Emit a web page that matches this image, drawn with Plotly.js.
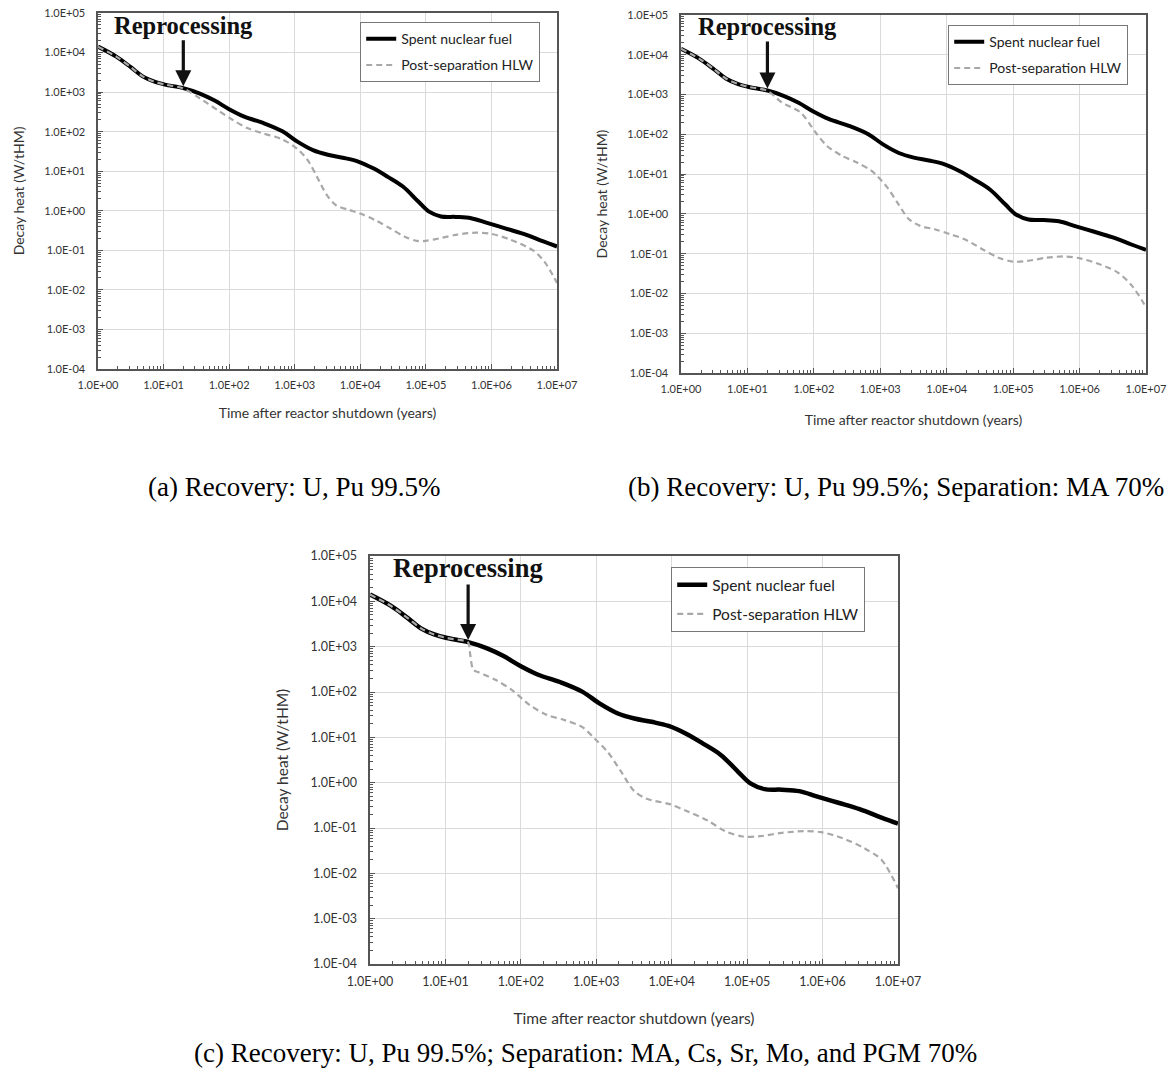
<!DOCTYPE html>
<html><head><meta charset="utf-8">
<script src="https://cdn.plot.ly/plotly-3.0.1.min.js"></script>
<style>html,body{margin:0;padding:0;background:#fff}#chart{width:1172px;height:1068px}</style>
</head><body><div id="chart"></div>
<script>
// ---- data (time in years, decay heat in W/tHM) ----
const snfTime = [1, 1.9, 3.2, 4.8, 7.1, 10.5, 20, 35, 59, 100, 170, 330, 650, 1100, 1900, 3200, 5400, 9100, 15500, 26300, 44700, 75900, 112000, 170000, 288000, 490000, 832000, 1620000, 3090000, 6030000, 1e7];
const snfHeat = [14100, 7900, 4200, 2500, 1860, 1550, 1260, 930, 620, 370, 240, 166, 102, 56, 34, 26, 22, 17.8, 12, 7.2, 4.1, 1.74, 0.95, 0.72, 0.70, 0.65, 0.50, 0.36, 0.26, 0.17, 0.125];

const hlwATime = [1, 1.9, 3.2, 4.8, 7.1, 10.5, 20, 35, 66, 112, 190, 324, 631, 1070, 1580, 2190, 3090, 4270, 6760, 10000, 17000, 28800, 47900, 72400, 100000, 158000, 302000, 589000, 1000000, 1950000, 4370000, 6460000, 1e7];
const hlwAHeat = [14100, 7900, 4200, 2500, 1860, 1550, 1240, 710, 355, 200, 123, 91, 65, 38, 19, 7.2, 2.5, 1.38, 1.05, 0.85, 0.575, 0.355, 0.22, 0.174, 0.174, 0.20, 0.25, 0.28, 0.26, 0.186, 0.098, 0.051, 0.015];

const hlwBTime = [1, 1.9, 3.2, 4.8, 7.1, 10.5, 20, 33, 63, 107, 158, 263, 447, 741, 1230, 1820, 2690, 3980, 6610, 11200, 18600, 35500, 60300, 100000, 166000, 316000, 603000, 1020000, 1950000, 3720000, 6170000, 1e7];
const hlwBHeat = [14100, 7900, 4200, 2500, 1860, 1550, 1240, 630, 355, 110, 51, 29, 19.5, 12, 5.0, 1.9, 0.74, 0.50, 0.41, 0.31, 0.23, 0.126, 0.079, 0.063, 0.066, 0.079, 0.085, 0.076, 0.055, 0.034, 0.0155, 0.0045];

const hlwCTime = [1, 1.9, 3.2, 4.8, 7.1, 10.5, 20, 21, 23.4, 27, 46, 78, 132, 224, 380, 646, 955, 1410, 2140, 3160, 4680, 9120, 15500, 30200, 51300, 87100, 148000, 288000, 562000, 955000, 1820000, 3550000, 6030000, 1e7];
const hlwCHeat = [14100, 7900, 4200, 2500, 1860, 1550, 1240, 800, 310, 275, 186, 107, 51, 31, 24, 17, 9.3, 4.8, 1.74, 0.66, 0.44, 0.34, 0.24, 0.145, 0.085, 0.065, 0.066, 0.078, 0.085, 0.081, 0.060, 0.036, 0.020, 0.0047];

const seriesNames = ['Spent nuclear fuel', 'Post-separation HLW'];
const xTickVals = [1, 10, 100, 1e3, 1e4, 1e5, 1e6, 1e7];
const xTickText = ['1.0E+00', '1.0E+01', '1.0E+02', '1.0E+03', '1.0E+04', '1.0E+05', '1.0E+06', '1.0E+07'];
const yTickVals = [1e-4, 1e-3, 1e-2, 1e-1, 1, 10, 100, 1e3, 1e4, 1e5];
const yTickText = ['1.0E-04', '1.0E-03', '1.0E-02', '1.0E-01', '1.0E+00', '1.0E+01', '1.0E+02', '1.0E+03', '1.0E+04', '1.0E+05'];
const reprocessYear = 20;
const reprocessHeat = 1260;
const captions = ['(a) Recovery: U, Pu 99.5%', '(b) Recovery: U, Pu 99.5%; Separation: MA 70%', '(c) Recovery: U, Pu 99.5%; Separation: MA, Cs, Sr, Mo, and PGM 70%'];
const xTitle = 'Time after reactor shutdown (years)';
const yTitle = 'Decay heat (W/tHM)';

// ---- helpers ----
const W = 1172, H = 1068;
function minorVals(lo, hi) {
  const v = [];
  for (let d = lo; d < hi; d++) for (let m = 2; m <= 9; m++) v.push(m * Math.pow(10, d));
  return v;
}
const xMinor = minorVals(0, 7);
const yMinor = minorVals(-4, 5);

function xAxis(px0, px1, anchor, fs, standoff) {
  return {
    type: 'log', range: [0, 7], domain: [px0 / W, px1 / W], anchor: anchor,
    tickmode: 'array', tickvals: xTickVals, ticktext: xTickText,
    ticks: 'inside', ticklen: 5, tickcolor: '#555', tickwidth: 1,
    showline: true, linecolor: '#555', linewidth: 1.6, mirror: true,
    showgrid: true, gridcolor: '#dadada', gridwidth: 1, zeroline: false,
    minor: { tickvals: xMinor, ticks: 'inside', ticklen: 3, tickcolor: '#555', showgrid: false },
    tickfont: { family: 'Lato', size: fs, color: '#333' }, ticklabelstandoff: 5,
    title: { text: xTitle, font: { family: 'Lato', size: fs + 3, color: '#333' }, standoff: standoff },
    fixedrange: true
  };
}
function yAxis(py0, py1, anchor, fs, standoff) {
  return {
    type: 'log', range: [-4, 5], domain: [1 - py1 / H, 1 - py0 / H], anchor: anchor,
    tickmode: 'array', tickvals: yTickVals, ticktext: yTickText,
    ticks: 'inside', ticklen: 5, tickcolor: '#555', tickwidth: 1,
    showline: true, linecolor: '#555', linewidth: 1.6, mirror: true,
    showgrid: true, gridcolor: '#dadada', gridwidth: 1, zeroline: false,
    minor: { tickvals: yMinor, ticks: 'inside', ticklen: 3, tickcolor: '#555', showgrid: false },
    tickfont: { family: 'Lato', size: fs, color: '#333' }, ticklabelstandoff: 9,
    title: { text: yTitle, font: { family: 'Lato', size: fs + 3, color: '#333' }, standoff: standoff },
    fixedrange: true
  };
}

const panels = [
  { xa: 'x', ya: 'y', leg: 'legend', t: hlwATime, v: hlwAHeat },
  { xa: 'x2', ya: 'y2', leg: 'legend2', t: hlwBTime, v: hlwBHeat },
  { xa: 'x3', ya: 'y3', leg: 'legend3', t: hlwCTime, v: hlwCHeat }
];
const traces = [];
panels.forEach((p, i) => {
  traces.push({
    x: snfTime, y: snfHeat, xaxis: p.xa, yaxis: p.ya, mode: 'lines', name: seriesNames[0],
    line: { color: '#000', width: i === 2 ? 4.5 : 4, shape: 'spline', smoothing: 1 },
    legend: p.leg, legendgroup: 's' + i, hoverinfo: 'x+y'
  });
  traces.push({
    x: p.t, y: p.v, xaxis: p.xa, yaxis: p.ya, mode: 'lines', name: seriesNames[1],
    line: { color: '#a8a8a8', width: 2.2, dash: '6px,4px', shape: 'spline', smoothing: 0.85 },
    legend: p.leg, legendgroup: 'h' + i, hoverinfo: 'x+y'
  });
});

function legendBox(px, py, fs, gap, ew) {
  return {
    x: px / W, y: 1 - py / H, xanchor: 'left', yanchor: 'top',
    bgcolor: '#fff', bordercolor: '#777', borderwidth: 1.2,
    font: { family: 'Lato', size: fs, color: '#222' },
    traceorder: 'grouped', tracegroupgap: gap, itemwidth: 30,
    entrywidthmode: 'pixels', entrywidth: ew
  };
}

function reproc(xref, yref, fs, ay) {
  return {
    xref: xref, yref: yref, x: Math.log10(reprocessYear), y: Math.log10(reprocessHeat),
    text: '<b>Reprocessing</b>', showarrow: true, ax: 0, ay: ay,
    arrowhead: 2, arrowsize: 1, arrowwidth: 3.2, arrowcolor: '#111', standoff: 2,
    font: { family: 'Liberation Serif', size: fs, color: '#111' }
  };
}
function caption(text, cx, cy) {
  return {
    xref: 'paper', yref: 'paper', x: cx / W, y: 1 - cy / H, xanchor: 'center', yanchor: 'middle',
    text: text, showarrow: false, font: { family: 'Liberation Serif', size: 27, color: '#000' }
  };
}

const layout = {
  width: W, height: H, margin: { l: 0, r: 0, t: 0, b: 0 },
  paper_bgcolor: '#fff', plot_bgcolor: '#fff', showlegend: true,
  font: { family: 'Lato', color: '#333' },
  xaxis: xAxis(98, 557, 'y', 11, 18),
  yaxis: yAxis(13, 369, 'x', 11, 16),
  xaxis2: xAxis(681, 1146, 'y2', 11, 21),
  yaxis2: yAxis(15, 373, 'x2', 11, 16),
  xaxis3: xAxis(370, 898, 'y3', 12.5, 25),
  yaxis3: yAxis(556, 964, 'x3', 12.5, 18),
  legend: legendBox(360, 22, 14, 5, 150),
  legend2: legendBox(948, 25, 14, 5, 148),
  legend3: legendBox(671, 567, 15.5, 6, 160),
  annotations: [
    reproc('x', 'y', 24.5, -63),
    reproc('x2', 'y2', 24.5, -64),
    reproc('x3', 'y3', 26.5, -74),
    caption(captions[0], 294, 487),
    caption(captions[1], 896, 487),
    caption(captions[2], 585, 1053)
  ]
};

Plotly.newPlot('chart', traces, layout, { displayModeBar: false, staticPlot: true });
</script></body></html>
